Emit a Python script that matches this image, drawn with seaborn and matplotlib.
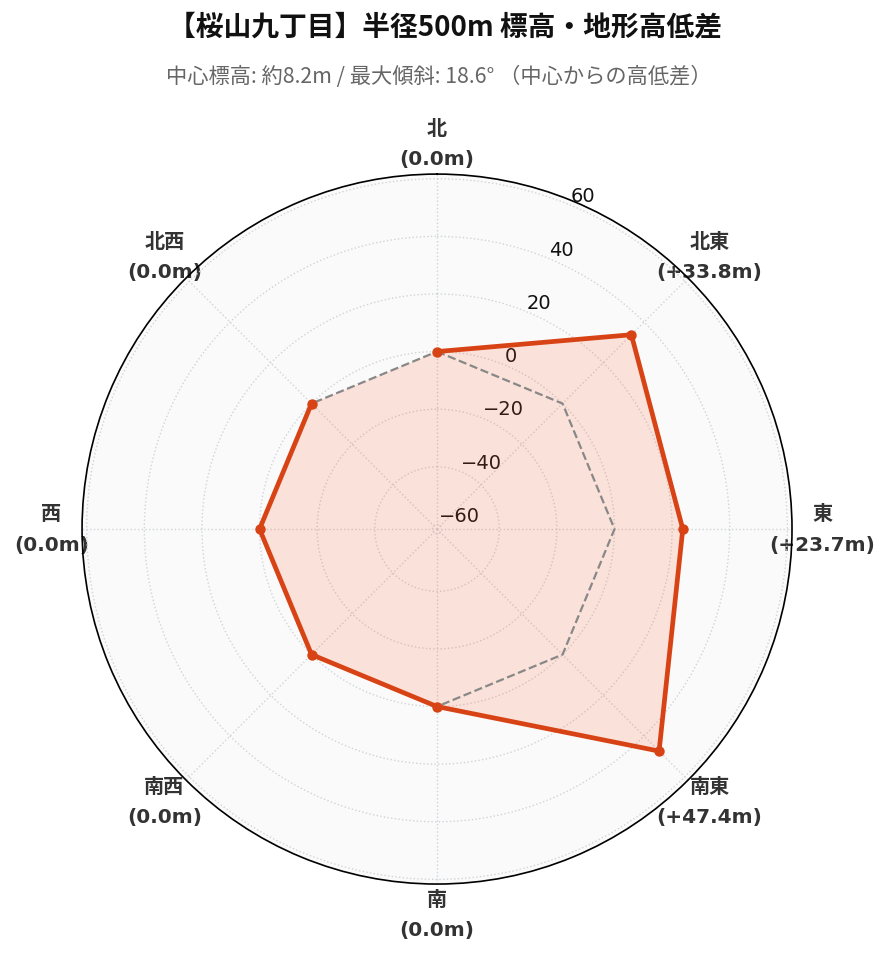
import numpy as np
import matplotlib
matplotlib.use("Agg")
import matplotlib.pyplot as plt
import seaborn as sns
import pandas as pd

directions = ["北", "北東", "東", "南東", "南", "南西", "西", "北西"]
diffs = [0.0, 33.8, 23.7, 47.4, 0.0, 0.0, 0.0, 0.0]
rticks = [-60, -40, -20, 0, 20, 40, 60]
title = "【桜山九丁目】半径500m 標高・地形高低差"
subtitle = "中心標高: 約8.2m / 最大傾斜: 18.6° （中心からの高低差）"

sns.set_theme(style="white")
plt.rcParams['font.family'] = ['Noto Sans CJK JP', 'DejaVu Sans']

color = "#d84315"
n = len(directions)
angles = np.linspace(0, 2 * np.pi, n, endpoint=False)
df = pd.DataFrame({"theta": np.append(angles, angles[0]),
                   "r": diffs + [diffs[0]],
                   "zero": [0.0] * (n + 1)})

fig = plt.figure(figsize=(8.91, 9.62), dpi=100)
ax = fig.add_axes([0.092, 0.080, 0.797, 0.738], projection="polar")
ax.set_theta_offset(np.pi / 2)
ax.set_theta_direction(-1)
ax.set_facecolor("#fafafa")

lim = max(abs(v) for v in diffs) * 1.3
ax.set_ylim(-lim, lim)

ax.plot(df["theta"], df["zero"], color="#888888", lw=1.6, ls="--", zorder=2)
ax.fill(df["theta"], df["r"], color="#ff5722", alpha=0.15, lw=0, zorder=1)
sns.lineplot(data=df, x="theta", y="r", ax=ax, color=color, lw=3.4, sort=False,
             marker="o", markersize=7.5, markeredgewidth=0, zorder=3)
ax.set_xlabel("")
ax.set_ylabel("")

ax.set_xticks(angles)
labels = [f"{d}\n({v:+.1f}m)" if v != 0 else f"{d}\n(0.0m)" for d, v in zip(directions, diffs)]
ax.set_xticklabels(labels)
ax.set_yticks(rticks)
ax.set_yticklabels([f"{t}".replace("-", "\u2212") for t in rticks])
ax.set_rlabel_position(22.5)
ax.grid(True, color="#cfd4d8", ls=":", lw=1)
ax.spines["polar"].set_color("black")
ax.spines["polar"].set_linewidth(1.2)
ax.tick_params(axis="x", pad=9)

for t in ax.get_xticklabels():
    t.set_fontfamily(['DejaVu Sans', 'Noto Sans CJK JP'])
    t.set_fontsize(14.5)
    t.set_fontweight("bold")
    t.set_color("#333333")
    t.set_linespacing(1.75)
for t in ax.get_yticklabels():
    t.set_fontfamily(['DejaVu Sans'])
    t.set_fontsize(14)
    t.set_color("#111111")

fig.text(0.5, 0.971, title, ha="center", va="center", fontsize=20, fontweight="bold", color="#111111")
fig.text(0.492, 0.920, subtitle, ha="center", va="center", fontsize=15.3, color="#666666")

fig.savefig("out.png", dpi=100)
